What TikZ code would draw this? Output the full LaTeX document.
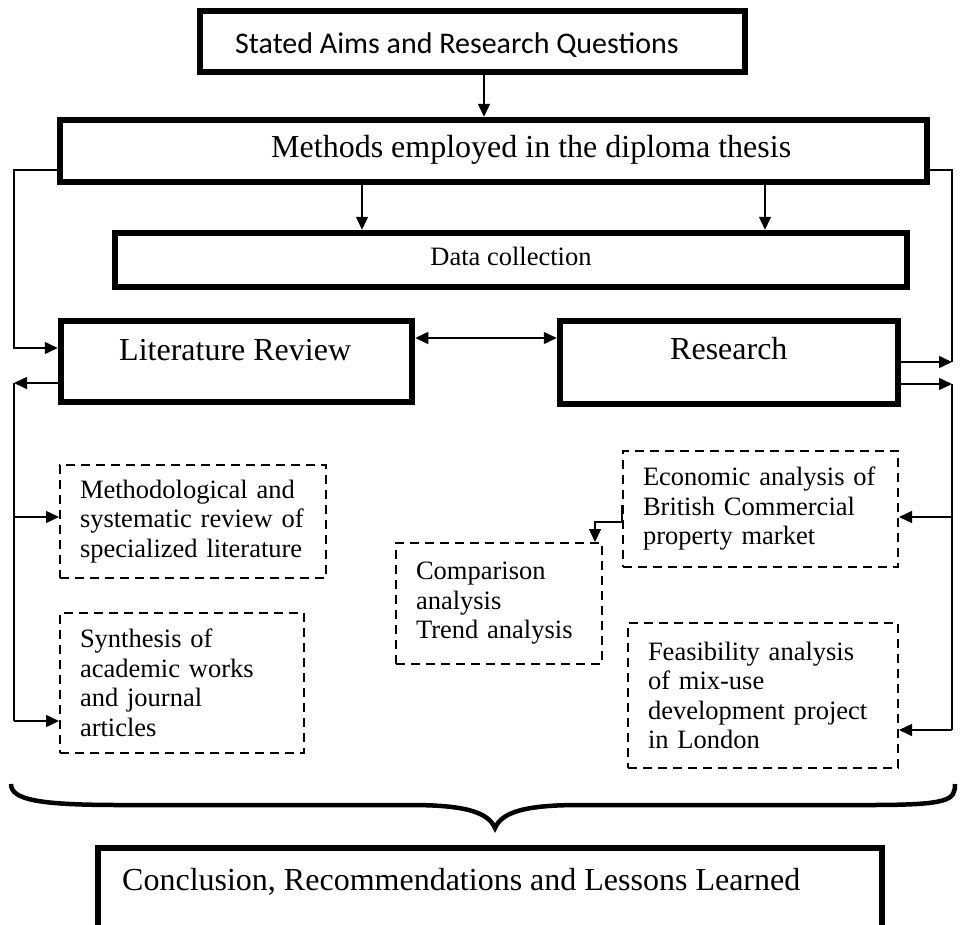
\documentclass[tikz,border=0pt]{standalone}
\usepackage{fontspec}
\setmainfont{Liberation Serif}
\newfontfamily\aimsfont{Carlito}
\usetikzlibrary{arrows.meta}

\begin{document}
\begin{tikzpicture}
  [x=1pt,y=-1pt,
   thickbox/.style={draw,line width=6.5pt,inner sep=0pt},
   dashbox/.style={draw,line width=2pt,dash pattern=on 9pt off 6pt,align=left,
                   inner xsep=20pt,inner ysep=0pt,font=\fontsize{26.5}{29.5}\selectfont},
   boxtext/.style={anchor=base west,inner sep=0pt,font=\fontsize{32}{36}\selectfont},
   link/.style={line width=1.5pt},
   arr/.style={link,-{Triangle[length=13pt,width=12pt]}},
   arrboth/.style={link,{Triangle[length=13pt,width=12pt]}-{Triangle[length=13pt,width=12pt]}}]
  \useasboundingbox (0,0) rectangle (961,924);

  % solid boxes
  \node[thickbox,minimum width=545pt,minimum height=61pt] (aims) at (472.5,41.5) {};
  \node[thickbox,minimum width=867pt,minimum height=62pt] (meth) at (493.5,151) {};
  \node[thickbox,minimum width=792pt,minimum height=54pt] (data) at (511,260) {};
  \node[thickbox,minimum width=351pt,minimum height=81pt] (lit) at (236.5,361.5) {};
  \node[thickbox,minimum width=338pt,minimum height=83pt] (res) at (729,362.5) {};
  \node[thickbox,minimum width=784pt,minimum height=87pt] (concl) at (490,891.5) {};

  % box texts
  \node[boxtext,font=\aimsfont\fontsize{30}{34}\selectfont] (aimstext) at (235,53) {Stated Aims and Research Questions};
  \node[boxtext] (methtext) at (271,157) {Methods employed in the diploma thesis};
  \node[boxtext,anchor=base,font=\fontsize{26.5}{30}\selectfont] (datatext) at (511,265) {Data collection};
  \node[boxtext] (littext) at (119,360) {Literature Review};
  \node[boxtext] (restext) at (670,359) {Research};
  \node[boxtext] (concltext) at (122,890) {Conclusion, Recommendations and Lessons Learned};

  % dashed boxes
  \node[dashbox,text width=226pt,minimum height=113pt] (mrev) at (193,521.5)
    {Methodological and\\systematic review of\\specialized literature};
  \node[dashbox,text width=204pt,minimum height=140pt] (synth) at (182,683)
    {Synthesis of\\academic works\\and journal\\articles};
  \node[dashbox,text width=166pt,minimum height=121pt] (cmp) at (499,603.5)
    {Comparison\\analysis\\Trend analysis};
  \node[dashbox,text width=235pt,minimum height=116pt] (econ) at (760.5,509)
    {Economic analysis of\\British Commercial\\property market};
  \node[dashbox,text width=230pt,minimum height=145pt] (feas) at (763,695.5)
    {Feasibility analysis\\of mix-use\\development project\\in London};

  % bus points
  \coordinate (a1) at (484,0);
  \coordinate (d1) at (362,0);
  \coordinate (d2) at (765,0);
  \coordinate (lm) at (0,170);
  \coordinate (lr) at (486,338);
  \coordinate (lb1) at (14,348);
  \coordinate (lb2) at (14,383);
  \coordinate (lb3) at (14,517);
  \coordinate (lb4) at (14,721);
  \coordinate (rb1) at (952,362);
  \coordinate (rb2) at (952,384);
  \coordinate (rb3) at (952,517);
  \coordinate (rb4) at (952,730);

  \draw[arr] (aims.south -| a1) -- (meth.north -| a1);
  \foreach \col in {d1,d2}
    \draw[arr] (meth.south -| \col) -- (data.north -| \col);
  \draw[arr] (meth.west |- lm) -| (lb1) -- (lb1 -| lit.west);
  \draw[link] (meth.east |- lm) -| (rb1);
  \draw[arr] (rb1 -| res.east) -- (rb1);
  \draw[arr] (rb2 -| res.east) -- (rb2);
  \draw[arrboth] (lr -| lit.east) -- (lr -| res.west);
  \draw[arr] (lb2 -| lit.west) -- (lb2);
  \draw[link] (lb2) -- (lb4);
  \foreach \from/\to in {lb3/mrev,lb4/synth}
    \draw[arr] (\from) -- (\from -| \to.west);
  \draw[link] (rb2) -- (rb4);
  \foreach \from/\to in {rb3/econ,rb4/feas}
    \draw[arr] (\from) -- (\from -| \to.east);
  \draw[arr] ([yshift=4pt]econ.west) -- ++(0,17) -| ([xshift=-8pt]cmp.north east);

  % brace
  \draw[line width=4.5pt]
    (11,784) .. controls (11,800) and (40,805) .. (120,805) -- (410,805)
    .. controls (465,805) and (488,812) .. (495,828)
    .. controls (502,812) and (525,805) .. (580,805) -- (870,805)
    .. controls (950,805) and (955,800) .. (955,784);
\end{tikzpicture}
\end{document}
